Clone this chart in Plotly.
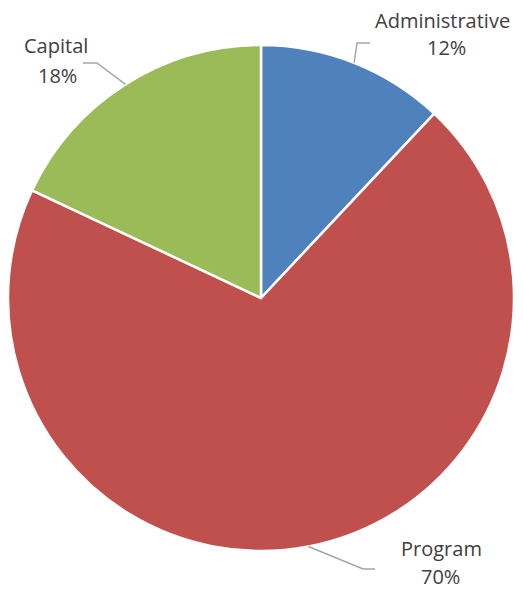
import math
import plotly.graph_objects as go

categories = ["Administrative", "Program", "Capital"]
values = [12, 70, 18]
colors = ["#4F81BD", "#C0504D", "#9BBB59"]

OFF = 8  # page body margin offset of the plot div
W, H = 523 - OFF, 590 - OFF
ML, MT = 8 - OFF, 45 - OFF
PW, PH = 506, 506
MR, MB = W - ML - PW, H - MT - PH
cx, cy = ML + PW / 2, MT + PH / 2
R = min(PW, PH) / 2

def to_paper(px, py):
    # px, py given in page pixels
    fx, fy = px - OFF, py - OFF
    return (fx - ML) / PW, (MT + PH - fy) / PH

fig = go.Figure(go.Pie(
    labels=categories, values=values, sort=False, direction="clockwise",
    rotation=0, marker=dict(colors=colors, line=dict(color="white", width=2.5)),
    textinfo="none", hoverinfo="label+percent", showlegend=False,
))

# label placement (page pixel positions for elbow and text)
label_cfg = {
    "Administrative": dict(elbow=(357, 43), end=(370, 43), name=(442, 20), pct=(446, 48)),
    "Program": dict(elbow=(363, 569), end=(375, 569), name=(441, 548), pct=(440, 576)),
    "Capital": dict(elbow=(97, 63), end=(83, 63), name=(56, 45), pct=(57, 76)),
}

total = sum(values)
cum = 0
shapes, annotations = [], []
for cat, v in zip(categories, values):
    mid = (cum + v / 2) / total * 2 * math.pi
    cum += v
    ex, ey = OFF + cx + R * math.sin(mid), OFF + cy - R * math.cos(mid)
    cfg = label_cfg[cat]
    pts = [to_paper(ex, ey), to_paper(*cfg["elbow"]), to_paper(*cfg["end"])]
    path = "M {} {} L {} {} L {} {}".format(*[c for p in pts for c in p])
    shapes.append(dict(type="path", xref="paper", yref="paper", path=path,
                       line=dict(color="#A6A6A6", width=1.5)))
    pct = round(v / total * 100)
    for txt, pos in ((cat, cfg["name"]), (f"{pct}%", cfg["pct"])):
        x, y = to_paper(*pos)
        annotations.append(dict(x=x, y=y, xref="paper", yref="paper", text=txt,
                                showarrow=False, xanchor="center", yanchor="middle",
                                borderpad=0,
                                font=dict(family="Open Sans", size=20, color="#404040")))

fig.update_layout(
    width=W, height=H, margin=dict(l=ML, r=MR, t=MT, b=MB, autoexpand=False),
    paper_bgcolor="white", plot_bgcolor="white",
    shapes=shapes, annotations=annotations,
)
fig.write_html("out.html")
